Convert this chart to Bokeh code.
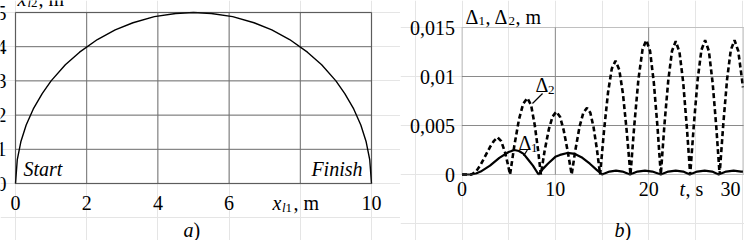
from bokeh.plotting import figure
from bokeh.layouts import row
from bokeh.models import Range1d, Label, BoxAnnotation
from bokeh.embed import file_html
from bokeh.resources import INLINE

FONT = "Liberation Serif"

# ---------- panel a) : path of the load ----------
path_x = [0, 0.05, 0.15, 0.3, 0.5, 0.75, 1.0, 1.4, 1.8, 2.3, 2.8, 3.3, 3.9, 4.5, 5.0,
          5.5, 6.1, 6.7, 7.2, 7.7, 8.2, 8.6, 9.0, 9.25, 9.5, 9.7, 9.85, 9.95, 10]
path_y = [0, 0.70, 1.22, 1.71, 2.18, 2.63, 3.0, 3.47, 3.84, 4.21, 4.49, 4.70, 4.88, 4.97, 5.0,
          4.97, 4.88, 4.70, 4.49, 4.21, 3.84, 3.47, 3.0, 2.63, 2.18, 1.71, 1.22, 0.70, 0]
xa_ticks = [0, 2, 4, 6, 8, 10]
xa_tick_labels = ["0", "2", "4", "6", "", "10"]
ya_ticks = [0, 1, 2, 3, 4, 5]
ya_tick_labels = ["0", "1", "2", "3", "4", "5"]

# ---------- panel b) : deviations ----------
t1 = [0, 1.0, 1.5, 2.0, 3.0, 4.0, 5.0, 5.6, 6.1, 6.6, 7.1, 7.6, 8.2,
      8.7, 9.2, 10.0, 10.5, 11.3, 12.1, 12.9, 13.7, 14.4, 15.0,
      15.8, 16.5, 17.2, 18.0, 18.8, 19.6, 20.4, 21.3, 22.1, 22.9, 23.7, 24.4,
      25.2, 26.0, 26.8, 27.5, 28.3, 29.1, 29.9, 30.1]
d1 = [0, 0, 0.0001, 0.0003, 0.0009, 0.0017, 0.0023, 0.0025, 0.0024, 0.0021, 0.0015, 0.0009, 0,
      0.0006, 0.0011, 0.0018, 0.0020, 0.0022, 0.0021, 0.0017, 0.0011, 0.0005, 0,
      0.0003, 0.0004, 0.0003, 0, 0.0003, 0.0004, 0.0003, 0, 0.0003, 0.0004, 0.0003, 0,
      0.0003, 0.0004, 0.0003, 0, 0.0003, 0.0004, 0.0003, 0.0003]

t2 = [0, 1.0, 1.5, 2.0, 2.5, 3.0, 3.4, 3.8, 4.2, 4.6, 4.9, 5.15,
      5.6, 6.1, 6.55, 7.0, 7.4, 7.8, 8.15, 8.45,
      8.85, 9.3, 9.7, 10.1, 10.5, 10.9, 11.3, 11.75,
      12.15, 12.6, 13.0, 13.4, 13.75, 14.1, 14.45, 14.8,
      15.2, 15.65, 16.05, 16.45, 16.85, 17.25, 17.65, 18.05,
      18.45, 18.9, 19.35, 19.75, 20.15, 20.55, 20.95, 21.3,
      21.7, 22.1, 22.5, 22.9, 23.3, 23.7, 24.1, 24.45,
      24.85, 25.25, 25.65, 26.05, 26.45, 26.85, 27.25, 27.6,
      28.0, 28.4, 28.8, 29.2, 29.6, 30.0, 30.1]
d2 = [0, 0, 0.0003, 0.0010, 0.0019, 0.0028, 0.0034, 0.0038, 0.0034, 0.0023, 0.0011, 0,
      0.0029, 0.0056, 0.0072, 0.0078, 0.0071, 0.0050, 0.0025, 0,
      0.0024, 0.0046, 0.0059, 0.0064, 0.0059, 0.0045, 0.0025, 0,
      0.0025, 0.0049, 0.0063, 0.0068, 0.0063, 0.0048, 0.0026, 0,
      0.0043, 0.0084, 0.0108, 0.0116, 0.0107, 0.0082, 0.0044, 0,
      0.0049, 0.0097, 0.0128, 0.0137, 0.0126, 0.0094, 0.0048, 0,
      0.0052, 0.0096, 0.0126, 0.0136, 0.0125, 0.0094, 0.0047, 0,
      0.0052, 0.0097, 0.0127, 0.0137, 0.0126, 0.0094, 0.0048, 0,
      0.0052, 0.0097, 0.0127, 0.0137, 0.0126, 0.0097, 0.0089]
xb_ticks = [0, 10, 20, 30]
xb_tick_labels = ["0", "10", "20", "30"]
yb_ticks = [0, 0.005, 0.01, 0.015]
yb_tick_labels = ["0", "0,005", "0,01", "0,015"]

# leader lines of the curve labels (t, Δ)
lead2_t = [8.63, 7.55]
lead2_d = [0.00827, 0.00724]
lead1_t = [7.0, 6.6]
lead1_d = [0.0025, 0.0019]

# ---------- layout (pixels) ----------
WA, WB, H = 400, 344, 240
# panel a: plot box 15..371 (x), 12..183 (y)
A_L, A_R, A_T, A_B = 15, 371, 12, 183
# panel b: plot box from x=0 at 61.5, x=30 at 341.5, 27..174 (y)
B_L, B_30, B_T, B_B = 61.5, 341.5, 27, 174
XB_END = 30.15


def seg(p, x, y, text, dx, dy, size=20, style="normal", align="left"):
    p.add_layout(Label(x=x, y=y, x_offset=dx, y_offset=dy, text=text,
                       text_font=FONT, text_font_size=f"{size}px",
                       text_font_style=style, text_align=align,
                       text_baseline="middle", text_color="black"))


def make_fig(w, x0, x1, y0, y1):
    p = figure(width=w, height=H, x_range=Range1d(x0, x1), y_range=Range1d(y0, y1),
               x_axis_location=None, y_axis_location=None, min_border=0,
               output_backend="svg", toolbar_location=None, title=None)
    p.outline_line_color = None
    p.background_fill_color = "white"
    p.border_fill_color = "white"
    return p


# ---------------- figure a ----------------
xa_max, ya_max = xa_ticks[-1], ya_ticks[-1]
sxa = (A_R - A_L) / xa_max
sya = (A_B - A_T) / ya_max
pa = make_fig(WA, -A_L / sxa, (WA - A_L) / sxa, -(H - A_B) / sya, ya_max + A_T / sya)

pa.segment(x0=xa_ticks, y0=[0] * len(xa_ticks), x1=xa_ticks, y1=[ya_max] * len(xa_ticks),
           line_color="#707070", line_width=1)
pa.segment(x0=[0] * len(ya_ticks), y0=ya_ticks, x1=[xa_max] * len(ya_ticks), y1=ya_ticks,
           line_color="#707070", line_width=1)
pa.line(path_x, path_y, line_color="black", line_width=1.4)
pa.add_layout(BoxAnnotation(left=0, right=xa_max, bottom=0, top=ya_max, fill_color=None,
                            line_color="#303030", line_width=1.5))

for v, lab in zip(ya_ticks, ya_tick_labels):
    seg(pa, 0, v, lab, -9, 0, align="right")
for v, lab in zip(xa_ticks, xa_tick_labels):
    if lab:
        seg(pa, v, 0, lab, 0, -19.5, align="center")
# y axis label  x_l2, m  (mostly above the window, as in the reference)
seg(pa, 0, ya_max, "x", 2, 14, style="italic")
seg(pa, 0, ya_max, "l", 12, 10, size=13, style="italic")
seg(pa, 0, ya_max, "2", 15.5, 10, size=13)
seg(pa, 0, ya_max, ", m", 23, 14)
# x axis label  x_l1, m
seg(pa, 0, 0, "x", 257, -19.5, style="italic")
seg(pa, 0, 0, "l", 266.5, -24, size=13, style="italic")
seg(pa, 0, 0, "1", 270, -24, size=13)
seg(pa, 0, 0, ", m", 278, -19.5)
seg(pa, 0, 0, "Start", 8, 14.5, style="italic")
seg(pa, xa_max, 0, "Finish", -9, 14.5, style="italic", align="right")
seg(pa, 0, 0, "a", 168, -46, style="italic")
seg(pa, 0, 0, ")", 178, -46)

# ---------------- figure b ----------------
yb_max = yb_ticks[-1]
sxb = (B_30 - B_L) / xb_ticks[-1]
syb = (B_B - B_T) / yb_max
pb = make_fig(WB, -B_L / sxb, (WB - B_L) / sxb, -(H - B_B) / syb, yb_max + B_T / syb)

inner_x = xb_ticks[1:-1]
inner_y = yb_ticks[1:-1]
pb.segment(x0=inner_x, y0=[0] * len(inner_x), x1=inner_x, y1=[yb_max] * len(inner_x),
           line_color="#8a8a8a", line_width=1)
pb.segment(x0=[0] * len(inner_y), y0=inner_y, x1=[XB_END] * len(inner_y), y1=inner_y,
           line_color="#8a8a8a", line_width=1)
pb.add_layout(BoxAnnotation(left=0, right=XB_END, bottom=0, top=yb_max, fill_color=None,
                            line_color="#6a6a6a", line_width=1.2))

pb.line(t2, d2, line_color="black", line_width=2.6, line_dash="5 3")
pb.line(t1, d1, line_color="black", line_width=2.2)
pb.line(lead2_t, lead2_d, line_color="black", line_width=1.2)
pb.line(lead1_t, lead1_d, line_color="black", line_width=1.2)

for v, lab in zip(yb_ticks, yb_tick_labels):
    seg(pb, 0, v, lab, -7, 0, align="right")
for i, (v, lab) in enumerate(zip(xb_ticks, xb_tick_labels)):
    if i < len(xb_ticks) - 1:
        seg(pb, v, 0, lab, 0, -14, align="center")
    else:  # last one kept inside the window
        seg(pb, v, 0, lab, -1.5, -14, align="right")
# y axis label  Δ1, Δ2, m
seg(pb, 0, yb_max, "Δ", 3.5, 11)
seg(pb, 0, yb_max, "1", 16.5, 7, size=13)
seg(pb, 0, yb_max, ", Δ", 23.5, 11)
seg(pb, 0, yb_max, "2", 46.5, 7, size=13)
seg(pb, 0, yb_max, ", m", 53.5, 11)
# curve labels
seg(pb, 0, 0, "Δ", 73.5, 89.5)
seg(pb, 0, 0, "2", 86, 85, size=13)
seg(pb, 0, 0, "Δ", 56.5, 31.5)
seg(pb, 0, 0, "1", 69, 27, size=13)
# x axis label  t, s
seg(pb, 0, 0, "t", 217.5, -14, style="italic")
seg(pb, 0, 0, ", s", 223.5, -14)
seg(pb, 0, 0, "b", 152.5, -55, style="italic")
seg(pb, 0, 0, ")", 162.5, -55)

layout = row(pa, pb)
open("out.html", "w").write(file_html(layout, INLINE))
